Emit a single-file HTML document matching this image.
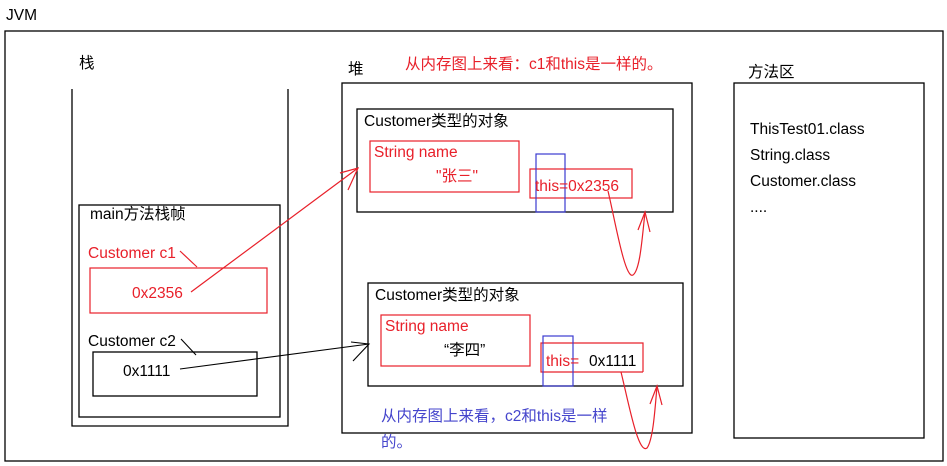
<!DOCTYPE html>
<html><head><meta charset="utf-8"><style>
html,body{margin:0;padding:0;background:#fff;width:947px;height:466px;overflow:hidden}
svg{display:block}
text{font-family:"Liberation Sans","Noto Sans CJK SC",sans-serif;font-size:15.5px}
</style></head><body>
<svg width="947" height="466" viewBox="0 0 947 466" xmlns="http://www.w3.org/2000/svg">
<g fill="none" stroke="#000" stroke-width="1.3">
<rect x="5" y="31" width="938" height="430"/>
<polyline points="72,89 72,426 288,426 288,89"/>
<rect x="79" y="205" width="201" height="212"/>
<rect x="93" y="352" width="164" height="44"/>
<rect x="342" y="83" width="350" height="350"/>
<rect x="357" y="109" width="316" height="103"/>
<rect x="368" y="283" width="315" height="103"/>
<rect x="734" y="83" width="190" height="355"/>
</g>
<g fill="none" stroke="#e8202a" stroke-width="1.2">
<rect x="90" y="268" width="177" height="45"/>
<rect x="370" y="141" width="149" height="51"/>
<rect x="530" y="169" width="102" height="29"/>
<rect x="381" y="315" width="149" height="51"/>
<polyline points="643,372 643,343 541,343 541,372 643,372"/>
<line x1="191" y1="292" x2="358" y2="168"/>
<polyline points="340,173 358,168 348,190"/>
<line x1="180" y1="251" x2="197" y2="267"/>
<path d="M608,191 C615,220 625,280 633,275 C640,270 642,240 645,212"/>
<polyline points="638,230 645,212 650,232"/>
<path d="M621,372 C628,400 638,455 647,448 C653,440 655,410 657,386"/>
<polyline points="650,404 657,386 662,405"/>
</g>
<g fill="none" stroke="#3b3bd0" stroke-width="1.2">
<rect x="536" y="154" width="29" height="58"/>
<rect x="543" y="336" width="30" height="50"/>
</g>
<g fill="none" stroke="#000" stroke-width="1.1">
<line x1="180" y1="369" x2="369" y2="344"/>
<polyline points="351,342 369,344 353,361"/>
<line x1="181" y1="339" x2="196" y2="355"/>
</g>
<text x="6" y="20">JVM</text>
<text x="79" y="68">栈</text>
<text x="348" y="74">堆</text>
<text x="748" y="77">方法区</text>
<text x="405" y="69" fill="#e8202a">从内存图上来看：c1和this是一样的。</text>
<text x="90" y="219">main方法栈帧</text>
<text x="88" y="258" fill="#e8202a">Customer c1</text>
<text x="132" y="298" fill="#e8202a">0x2356</text>
<text x="88" y="346">Customer c2</text>
<text x="123" y="376">0x1111</text>
<text x="364" y="126">Customer类型的对象</text>
<text x="374" y="157" fill="#e8202a">String name</text>
<text x="436" y="181" fill="#e8202a">"张三"</text>
<text x="535" y="191" fill="#e8202a">this=0x2356</text>
<text x="375" y="300">Customer类型的对象</text>
<text x="385" y="331" fill="#e8202a">String name</text>
<text x="444" y="355">“李四”</text>
<text x="546" y="366" fill="#e8202a">this=</text>
<text x="589" y="366">0x1111</text>
<text x="381" y="421" fill="#4545cc">从内存图上来看，c2和this是一样</text>
<text x="381" y="447" fill="#4545cc">的。</text>
<text x="750" y="134">ThisTest01.class</text>
<text x="750" y="160">String.class</text>
<text x="750" y="186">Customer.class</text>
<text x="750" y="212">....</text>
</svg>
</body></html>
